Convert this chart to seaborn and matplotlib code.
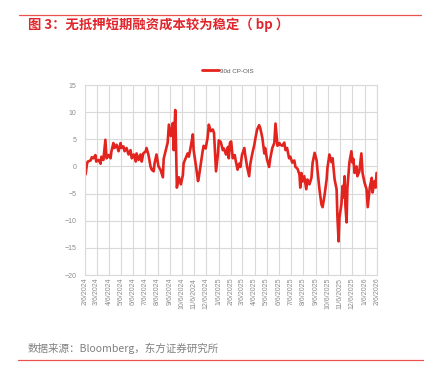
import matplotlib
matplotlib.use("Agg")
import matplotlib.pyplot as plt
import matplotlib.dates as mdates
from matplotlib.ticker import FixedLocator, FuncFormatter
import pandas as pd
import seaborn as sns

# 30d CP-OIS spread, bp
obs_dates = [
    "2024-02-07", "2024-02-08", "2024-02-11", "2024-02-13", "2024-02-20", "2024-02-23",
    "2024-02-27", "2024-03-03", "2024-03-05",
    "2024-03-11", "2024-03-16", "2024-03-18", "2024-03-23", "2024-03-28", "2024-03-31",
    "2024-04-05",
    "2024-04-10", "2024-04-12", "2024-04-17", "2024-04-20", "2024-04-25", "2024-04-30",
    "2024-05-05",
    "2024-05-07", "2024-05-12", "2024-05-15", "2024-05-20", "2024-05-25", "2024-05-30",
    "2024-06-02",
    "2024-06-07", "2024-06-12", "2024-06-14", "2024-06-19", "2024-06-24", "2024-06-27",
    "2024-07-01",
    "2024-07-07", "2024-07-09", "2024-07-14", "2024-07-19", "2024-07-22", "2024-07-27",
    "2024-07-29", "2024-08-03",
    "2024-08-08", "2024-08-13", "2024-08-19", "2024-08-21", "2024-08-26", "2024-08-31",
    "2024-09-03",
    "2024-09-08", "2024-09-13", "2024-09-15", "2024-09-19", "2024-09-23", "2024-09-28",
    "2024-10-03",
    "2024-10-08", "2024-10-10", "2024-10-15", "2024-10-20", "2024-10-23", "2024-10-28",
    "2024-11-02", "2024-11-04",
    "2024-11-10", "2024-11-15", "2024-11-17", "2024-11-22", "2024-11-27", "2024-11-29",
    "2024-12-04",
    "2024-12-09", "2024-12-12", "2024-12-17", "2024-12-22", "2024-12-25", "2024-12-30",
    "2025-01-04",
    "2025-01-06", "2025-01-11", "2025-01-16", "2025-01-19", "2025-01-24", "2025-01-29",
    "2025-01-31", "2025-02-03",
    "2025-02-06", "2025-02-10", "2025-02-15", "2025-02-17", "2025-02-22", "2025-02-26",
    "2025-03-01", "2025-03-05",
    "2025-03-11", "2025-03-13", "2025-03-18", "2025-03-23", "2025-03-26", "2025-03-31",
    "2025-04-05",
    "2025-04-08", "2025-04-12", "2025-04-17", "2025-04-20", "2025-04-25", "2025-04-30",
    "2025-05-02",
    "2025-05-07", "2025-05-12", "2025-05-15", "2025-05-20", "2025-05-25", "2025-05-28",
    "2025-06-02",
    "2025-06-07", "2025-06-09", "2025-06-14", "2025-06-19", "2025-06-22", "2025-06-26",
    "2025-07-01", "2025-07-04",
    "2025-07-09", "2025-07-14", "2025-07-17", "2025-07-22", "2025-07-27", "2025-07-29",
    "2025-08-01", "2025-08-03",
    "2025-08-08", "2025-08-13", "2025-08-16", "2025-08-21", "2025-08-26", "2025-08-29",
    "2025-09-03",
    "2025-09-08", "2025-09-10", "2025-09-15", "2025-09-20", "2025-09-23", "2025-09-28",
    "2025-10-03", "2025-10-05",
    "2025-10-10", "2025-10-15", "2025-10-18", "2025-10-23", "2025-10-28", "2025-10-30",
    "2025-11-02", "2025-11-04",
    "2025-11-09", "2025-11-12", "2025-11-14", "2025-11-17", "2025-11-19", "2025-11-22",
    "2025-11-24", "2025-11-29", "2025-12-04",
    "2025-12-07", "2025-12-09", "2025-12-12", "2025-12-17", "2025-12-19", "2025-12-24",
    "2025-12-29", "2026-01-01",
    "2026-01-06", "2026-01-11", "2026-01-14", "2026-01-19", "2026-01-24", "2026-01-26",
    "2026-01-31", "2026-02-03", "2026-02-05",
]
cp_ois = [
    -1.5, -1.2, 0.5, 0.9, 1.1, 1.7, 1.5, 2.1, 0.9,
    1.2, 0.5, 1.8, 1.2, 4.9, 1.5, 2.1,
    1.5, 2.7, 4.3, 3.4, 4.0, 2.8, 4.3,
    3.4, 3.7, 2.8, 3.4, 2.2, 3.0, 1.5,
    2.2, 0.9, 2.4, 1.2, 2.2, 0.9, 2.4,
    2.8, 3.4, 2.1, 0.0, -0.6, -0.9, 0.5, 2.2,
    0.0, -0.6, -2.0, 1.4, 2.9, 4.4, 7.7,
    5.6, 8.0, 3.0, 10.4, -3.9, -2.0, -3.3,
    -1.6, 0.6, 1.5, 2.4, 1.8, 3.7, 5.9, 3.0,
    0.0, -2.7, -2.0, 0.5, 3.0, 3.8, 3.3,
    5.3, 7.7, 6.5, 6.8, 6.2, -0.9, 2.4,
    4.8, 4.5, 3.0, 3.3, 2.2, 3.6, 1.5, 4.4,
    4.6, 1.5, 2.1, 1.2, -0.6, 0.5, -0.1, 2.1,
    3.4, 2.2, -0.1, -1.8, 0.5, 2.4, 4.0,
    5.3, 6.8, 7.6, 7.0, 5.3, 2.4, 3.4,
    1.2, -0.1, 1.5, 3.4, 4.3, 7.9, 3.8,
    4.3, 4.0, 3.8, 4.4, 3.0, 3.4, 1.5, 1.8,
    0.7, 1.1, -0.1, -0.4, -1.5, -3.9, -1.2, -2.8,
    -1.8, -4.2, -2.4, -3.3, -2.1, 0.7, 2.5,
    1.1, -0.6, -4.2, -7.0, -7.5, -5.2, -2.4, -0.3,
    2.2, 0.8, 1.5, -2.4, -4.2, -9.2, -13.8, -9.5,
    -7.0, -3.6, -5.7, -1.8, -7.2, -10.3, -4.0, 0.7, 2.8,
    0.7, 1.4, -1.2, 0.0, -1.8, -0.9, 2.4, -1.2,
    -3.0, -4.2, -7.5, -3.9, -2.1, -4.8, -2.7, -3.9, -1.2,
]
series_name = "30d CP-OIS"
x_start, x_end = "2024-02-06", "2026-02-06"
y_ticks = [-20, -15, -10, -5, 0, 5, 10, 15]

title_text = "图 3：无抵押短期融资成本较为稳定（ bp ）"
source_text = "数据来源：Bloomberg，东方证券研究所"

RED = "#e3231d"
GRID = "#d9d9d9"
TICK = "#8c8c8c"

df = pd.DataFrame({"date": pd.to_datetime(obs_dates), series_name: cp_ois})
tick_dates = pd.date_range(x_start, periods=25, freq=pd.DateOffset(months=1))

sns.set_style("whitegrid")
plt.rcParams["font.family"] = ["Liberation Sans", "Noto Sans CJK SC", "DejaVu Sans"]

fig = plt.figure(figsize=(4.24, 3.74), dpi=100)
ax = fig.add_axes([0.2005, 0.2647, 0.6885, 0.508])

sns.lineplot(data=df, x="date", y=series_name, ax=ax, color=RED,
             linewidth=1.9, label=series_name)

ax.set_xlim(pd.Timestamp(x_start), pd.Timestamp(x_end))
ax.set_ylim(-20, 15)
ax.set_yticks(y_ticks)
ax.xaxis.set_major_locator(FixedLocator(mdates.date2num(tick_dates)))
ax.xaxis.set_major_formatter(FuncFormatter(
    lambda v, pos: (lambda d: f"{d.month}/{d.day}/{d.year}")(mdates.num2date(v))))
ax.tick_params(axis="x", labelrotation=90, labelsize=5, colors=TICK, length=0, pad=2)
ax.tick_params(axis="y", labelsize=5, colors=TICK, length=0, pad=6)
ax.set_xlabel("")
ax.set_ylabel("")
ax.grid(True, color=GRID, linewidth=0.8)
for s in ax.spines.values():
    s.set_color(GRID)
    s.set_linewidth(0.8)

leg = ax.legend(loc="lower center", bbox_to_anchor=(0.49, 1.03), frameon=False,
                fontsize=4.5, handlelength=2.6, handletextpad=0.2)
for t in leg.get_texts():
    t.set_color("#595959")
for h in leg.get_lines():
    h.set_linewidth(2)

# header / footer decoration
fig.add_artist(plt.Line2D([19 / 424, 421 / 424], [1 - 15 / 374] * 2, color="#e8524f", lw=0.9))
fig.text(28 / 424, 1 - 25 / 374, title_text, color="#e0262c", fontsize=9.6,
         fontweight="bold", va="center", ha="left",
         family=["Noto Sans CJK SC", "DejaVu Sans"])
fig.text(28 / 424, 1 - 348 / 374, source_text, color="#808080", fontsize=7.6,
         va="center", ha="left", family=["Noto Sans CJK SC", "DejaVu Sans"])
fig.add_artist(plt.Line2D([18 / 424, 1.0], [1 - 360 / 374] * 2, color="#e8524f", lw=0.9))

fig.savefig("out.png", dpi=100, facecolor="white")
